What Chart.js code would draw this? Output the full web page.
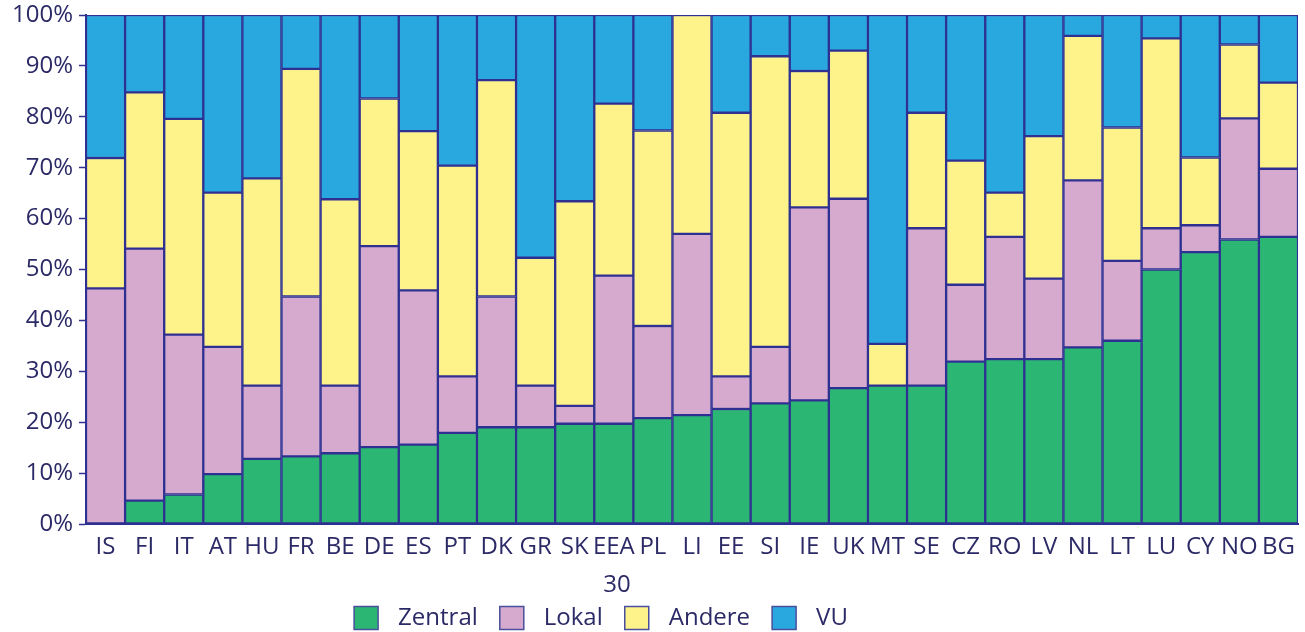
<!DOCTYPE html>
<html>
<head>
<meta charset="utf-8">
<script src="https://cdn.jsdelivr.net/npm/chart.js@4.4.1/dist/chart.umd.min.js"></script>
<style>
  html, body { margin: 0; padding: 0; background: #ffffff; }
  #c { display: block; }
</style>
</head>
<body>
<canvas id="c" width="1305" height="632"></canvas>
<script>
// Country codes along the x axis
const countries = ['IS','FI','IT','AT','HU','FR','BE','DE','ES','PT','DK','GR','SK','EEA','PL','LI',
                   'EE','SI','IE','UK','MT','SE','CZ','RO','LV','NL','LT','LU','CY','NO','BG'];

// Share of each group, in percent (segments stack to 100)
const zentral = [0, 4.6, 5.8, 9.8, 12.8, 13.3, 13.9, 15.1, 15.6, 17.9, 19.0, 19.0, 19.7, 19.7, 20.8, 21.4,
                 22.6, 23.7, 24.3, 26.7, 27.2, 27.2, 31.9, 32.4, 32.4, 34.7, 36.0, 50.0, 53.4, 55.9, 56.4];
const lokal   = [46.3, 49.5, 31.4, 25.0, 14.4, 31.4, 13.3, 39.5, 30.3, 11.1, 25.7, 8.2, 3.5, 29.1, 18.1, 35.6,
                 6.4, 11.1, 37.9, 37.2, 0, 30.9, 15.1, 24.0, 15.8, 32.8, 15.7, 8.1, 5.3, 23.8, 13.4];
const andere  = [25.6, 30.7, 42.4, 30.3, 40.7, 44.7, 36.6, 29.0, 31.3, 41.4, 42.5, 25.1, 40.2, 33.8, 38.4, 43.0,
                 51.8, 57.1, 26.8, 29.1, 8.2, 22.7, 24.4, 8.7, 28.0, 28.4, 26.2, 37.3, 13.3, 14.5, 16.9];
const vu      = [28.1, 15.2, 20.4, 34.9, 32.1, 10.6, 36.2, 16.4, 22.8, 29.6, 12.8, 47.7, 36.6, 17.4, 22.7, 0,
                 19.2, 8.1, 11.0, 7.0, 64.6, 19.2, 28.6, 34.9, 23.8, 4.1, 22.1, 4.6, 28.0, 5.8, 13.3];

const seriesNames = ['Zentral', 'Lokal', 'Andere', 'VU'];
const yTicks = [0, 10, 20, 30, 40, 50, 60, 70, 80, 90, 100];
const axisTitle = '30';

const ink = '#2b2a66';
const edge = '#2e3192';
const fills = ['#2bb673', '#d6a9ce', '#fef28b', '#29a8e0'];

const fontFamily = '"Open Sans", "DejaVu Sans", sans-serif';
const font = { family: fontFamily, size: 24 };

const datasets = [zentral, lokal, andere, vu].map((values, i) => ({
  label: seriesNames[i],
  data: values,
  backgroundColor: fills[i],
  borderColor: edge,
  borderWidth: 1.5,
  borderSkipped: false,
  categoryPercentage: 1.0,
  barPercentage: 1.0
}));

// Draws the axis caption and a single-row legend beneath the x labels
const footerLegend = {
  id: 'footerLegend',
  afterDraw(chart) {
    const ctx = chart.ctx;
    ctx.save();
    ctx.font = `${font.size}px ${fontFamily}`;
    ctx.fillStyle = ink;
    ctx.textBaseline = 'middle';

    // caption
    ctx.textAlign = 'center';
    ctx.fillText(axisTitle, 617, 585);

    // legend row
    const box = 24, boxGap = 20, itemGap = 22, centerX = 601, midY = 618;
    const items = chart.data.datasets.map(ds => ({
      label: ds.label, fill: ds.backgroundColor, w: ctx.measureText(ds.label).width
    }));
    const total = items.reduce((s, it) => s + box + boxGap + it.w, 0) + itemGap * (items.length - 1);
    let x = centerX - total / 2;
    ctx.textAlign = 'left';
    items.forEach(it => {
      ctx.fillStyle = it.fill;
      ctx.fillRect(x, midY - 11.5, box, 23);
      ctx.strokeStyle = '#4a4f9c';
      ctx.lineWidth = 1.5;
      ctx.strokeRect(x, midY - 11.5, box, 23);
      ctx.fillStyle = ink;
      ctx.fillText(it.label, x + box + boxGap, midY);
      x += box + boxGap + it.w + itemGap;
    });
    ctx.restore();
  }
};

new Chart(document.getElementById('c'), {
  type: 'bar',
  data: { labels: countries, datasets },
  plugins: [footerLegend],
  options: {
    responsive: false,
    animation: false,
    layout: { padding: { left: 0, right: 7, top: 15, bottom: 68 } },
    plugins: {
      tooltip: { enabled: false },
      legend: { display: false }
    },
    scales: {
      x: {
        stacked: true,
        grid: { display: false },
        border: { display: true, color: edge, width: 2 },
        ticks: { color: ink, font: font, maxRotation: 0, autoSkip: false, padding: 1 },
        afterFit: (scale) => { scale.height = 40; scale.paddingLeft = 0; scale.paddingRight = 0; }
      },
      y: {
        stacked: true,
        min: 0,
        max: 100,
        afterBuildTicks: (scale) => { scale.ticks = yTicks.map(v => ({ value: v })); },
        grid: { display: true, drawOnChartArea: false, drawTicks: true, tickLength: 7, color: edge, tickWidth: 1.5 },
        border: { display: true, color: edge, width: 2 },
        ticks: { color: ink, font: font, padding: 6, callback: (v) => v + '%' },
        afterFit: (scale) => { scale.width = 86; scale.paddingTop = 0; scale.paddingBottom = 0; }
      }
    }
  }
});
</script>
</body>
</html>
